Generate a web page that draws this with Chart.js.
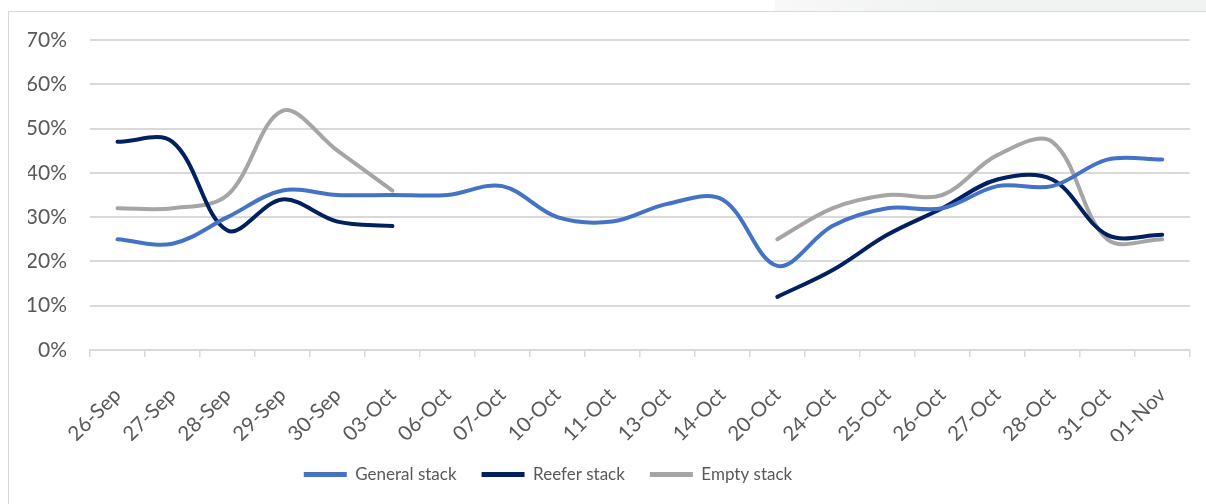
<!DOCTYPE html>
<html>
<head>
<meta charset="utf-8">
<script src="https://cdn.jsdelivr.net/npm/chart.js@4.4.1/dist/chart.umd.min.js"></script>
<style>
  html, body { margin: 0; padding: 0; background: #fff; overflow: hidden; }
  #wrap { position: relative; width: 1206px; height: 504px; }
  #tab { position: absolute; left: 775px; top: 0; width: 431px; height: 11px;
         background: linear-gradient(to right, #f8f8f8, #f1f2f2 170px); }
  #frame { position: absolute; left: 8px; top: 11px; width: 1300px; height: 600px;
           border: 1px solid #d9d9d9; box-sizing: border-box; }
  #myChart { position: absolute; left: 0; top: 0; }
</style>
</head>
<body>
<div id="wrap">
  <div id="tab"></div>
  <div id="frame"></div>
  <canvas id="myChart" width="1206" height="504"></canvas>
</div>
<script>
const dates = ['26-Sep', '27-Sep', '28-Sep', '29-Sep', '30-Sep', '03-Oct', '06-Oct', '07-Oct', '10-Oct', '11-Oct',
               '13-Oct', '14-Oct', '20-Oct', '24-Oct', '25-Oct', '26-Oct', '27-Oct', '28-Oct', '31-Oct', '01-Nov'];

// stack utilisation, percent
const generalStack = [25, 24, 30, 36, 35, 35, 35, 37, 30, 29, 33, 34, 19, 28, 32, 32, 37, 37, 43, 43];
const reeferStack  = [47, 47, 27, 34, 29, 28, null, null, null, null, null, null, 12, 18, 26, 32, 38.5, 38.5, 26, 26];
const emptyStack   = [32, 32, 35, 54, 45, 36, null, null, null, null, null, null, 25, 32, 35, 35, 44, 47, 25, 25];

const yTicks = [0, 10, 20, 30, 40, 50, 60, 70];

const textColor = '#595959';
const gridColor = '#d9d9d9';

function series(label, values, color) {
    return {
        label: label,
        data: values,
        borderColor: color,
        backgroundColor: color,
        borderWidth: 4,
        borderCapStyle: 'round',
        pointRadius: 0,
        pointHoverRadius: 0,
        tension: 0.35,
        spanGaps: false
    };
}

// legend sits a bit left of centre, under the axis labels
const legendPlacement = {
    id: 'legendPlacement',
    afterLayout(chart) {
        const lg = chart.legend;
        const dx = 548 - (lg.left + lg.right) / 2;
        lg.left += dx;
        lg.right += dx;
    }
};

const ctx = document.getElementById('myChart').getContext('2d');

const myChart = new Chart(ctx, {
    type: 'line',
    data: {
        labels: dates,
        datasets: [
            series('General stack', generalStack, '#4472C4'),
            series('Reefer stack', reeferStack, '#002060'),
            series('Empty stack', emptyStack, '#A5A5A5')
        ]
    },
    options: {
        responsive: false,
        animation: false,
        layout: {
            padding: { left: 28, right: 15, top: 40, bottom: 11 }
        },
        scales: {
            x: {
                offset: true,
                afterFit(axis) { axis.height = 91; },
                grid: {
                    offset: true,
                    drawOnChartArea: false,
                    drawTicks: true,
                    tickLength: 7,
                    color: gridColor,
                    lineWidth: 1.5
                },
                border: { display: true, color: gridColor, width: 2 },
                ticks: {
                    autoSkip: false,
                    minRotation: 45,
                    maxRotation: 45,
                    padding: 26,
                    color: textColor,
                    font: { family: 'Lato', size: 20.5 }
                }
            },
            y: {
                min: 0,
                max: 70,
                afterFit(axis) { axis.width = 62; },
                afterBuildTicks(axis) { axis.ticks = yTicks.map(v => ({ value: v })); },
                grid: { color: gridColor, lineWidth: 2, drawTicks: false },
                border: { display: false },
                ticks: {
                    padding: 23,
                    color: textColor,
                    font: { family: 'Lato', size: 21 },
                    callback: v => v + '%'
                }
            }
        },
        plugins: {
            legend: {
                position: 'bottom',
                labels: {
                    usePointStyle: true,
                    pointStyle: 'line',
                    pointStyleWidth: 43,
                    padding: 25,
                    color: textColor,
                    font: { family: 'Lato', size: 17 },
                    generateLabels(chart) {
                        return Chart.defaults.plugins.legend.labels.generateLabels(chart)
                            .map(item => ({ ...item, lineWidth: 5 }));
                    }
                }
            },
            tooltip: { enabled: false }
        }
    },
    plugins: [legendPlacement]
});
</script>
</body>
</html>
